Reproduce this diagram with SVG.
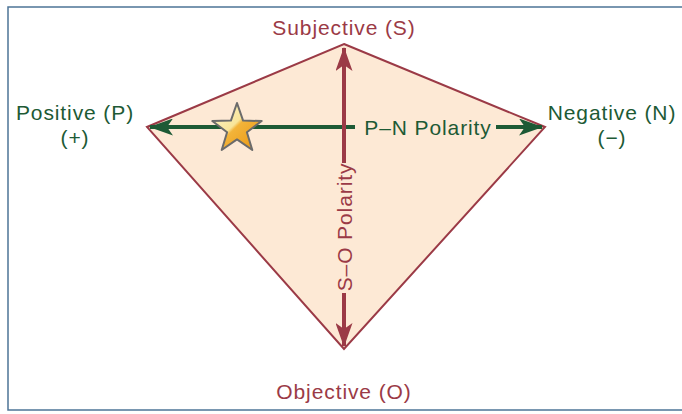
<svg xmlns="http://www.w3.org/2000/svg" width="682" height="414" viewBox="0 0 682 414">
<defs>
<style>
.red{fill:#9b3a46;}
.grn{fill:#1d5a35;}
.lbl{font-family:"Liberation Sans",Arial,sans-serif;font-size:21px;letter-spacing:0.9px;text-anchor:middle;}
</style>
<marker id="ahR" viewBox="0 0 24 17" refX="23" refY="8.5" markerWidth="24" markerHeight="17" markerUnits="userSpaceOnUse" orient="auto-start-reverse">
<path d="M0,0 L24,8.5 L0,17 L6,8.5 Z" fill="#9b3a46"/>
</marker>
<marker id="ahG" viewBox="0 0 24 17" refX="23" refY="8.5" markerWidth="24" markerHeight="17" markerUnits="userSpaceOnUse" orient="auto-start-reverse">
<path d="M0,0 L24,8.5 L0,17 L6,8.5 Z" fill="#1d5a35"/>
</marker>
<linearGradient id="starG" x1="0" y1="0" x2="1" y2="1">
<stop offset="0" stop-color="#fdf6d0"/>
<stop offset="0.45" stop-color="#f8e59a"/>
<stop offset="0.5" stop-color="#f3b43a"/>
<stop offset="1" stop-color="#e8940f"/>
</linearGradient>
</defs>
<rect x="8" y="7" width="690" height="403" fill="#ffffff" stroke="#4d7497" stroke-width="1.5"/>
<g id="kite">
<polygon points="344,44 545,127 344,349 147,127" fill="#fde9d5" stroke="#9b3a46" stroke-width="2"/>
</g>
<g id="connectors">
<line x1="355" y1="127" x2="150" y2="127" stroke="#1d5a35" stroke-width="4" marker-end="url(#ahG)"/>
<line x1="496" y1="127" x2="542" y2="127" stroke="#1d5a35" stroke-width="4" marker-end="url(#ahG)"/>
<line x1="344" y1="163" x2="344" y2="48" stroke="#9b3a46" stroke-width="4" marker-end="url(#ahR)"/>
<line x1="344" y1="293" x2="344" y2="346" stroke="#9b3a46" stroke-width="4" marker-end="url(#ahR)"/>
<text class="lbl grn" x="428" y="135">P–N Polarity</text>
<text class="lbl red" transform="translate(351.5,227) rotate(-90)">S–O Polarity</text>
</g>
<g id="star">
<polygon points="237,103 243.1,120.6 261.7,121 246.9,132.2 252.3,150 237,139.4 221.7,150 227.1,132.2 212.3,121 230.9,120.6" fill="url(#starG)" stroke="#6b6b6b" stroke-width="2" stroke-linejoin="round"/>
</g>
<g id="subjective"><text class="lbl red" x="344" y="35">Subjective (S)</text></g>
<g id="objective"><text class="lbl red" x="344" y="399">Objective (O)</text></g>
<g id="positive"><text class="lbl grn" x="75" y="120">Positive (P)</text><text class="lbl grn" x="75" y="145">(+)</text></g>
<g id="negative"><text class="lbl grn" x="612" y="120">Negative (N)</text><text class="lbl grn" x="612" y="145">(−)</text></g>
</svg>
